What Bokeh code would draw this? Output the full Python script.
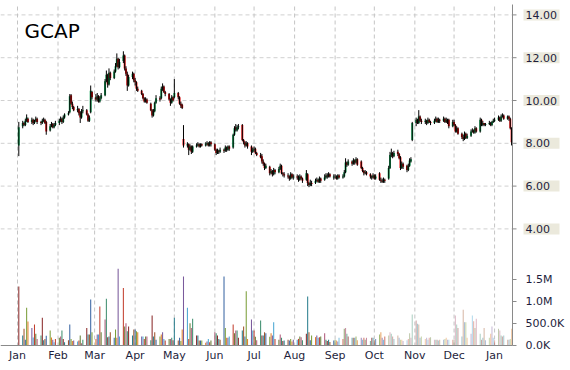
import pandas as pd
from bokeh.plotting import figure
from bokeh.models import Range1d, Label, ColumnDataSource
from bokeh.core.properties import value
from bokeh.embed import file_html
from bokeh.resources import INLINE

TICKER = "GCAP"
FIRST_DAY = "2015-01-02"
LAST_DAY = "2016-01-14"
PRICE_TICKS = [4, 6, 8, 10, 12, 14]
PRICE_TICK_LABELS = ["4.00", "6.00", "8.00", "10.00", "12.00", "14.00"]
VOLUME_TICKS = [0, 500000, 1000000, 1500000]
VOLUME_TICK_LABELS = ["0.0K", "500.0K", "1.0M", "1.5M"]
MONTH_STARTS = ["2015-01-01", "2015-02-01", "2015-03-01", "2015-04-01", "2015-05-01", "2015-06-01",
                "2015-07-01", "2015-08-01", "2015-09-01", "2015-10-01", "2015-11-01", "2015-12-01",
                "2016-01-01"]
MONTH_LABELS = ["Jan", "Feb", "Mar", "Apr", "May", "Jun", "Jul", "Aug", "Sep", "Oct", "Nov", "Dec", "Jan"]

opens = [
    7.90, 8.80, 8.95, 8.85, 9.05, 9.15, 9.00, 9.10, 8.95, 9.05, 9.15, 9.00, 8.95, 9.05, 9.10, 9.00, 8.60, 8.80, 8.90, 8.75, 8.85,
    8.95, 9.05, 9.15, 9.00, 9.20, 9.35, 9.45, 10.25, 9.85, 9.70, 9.55, 9.60, 9.45, 9.20, 9.50, 9.55, 9.35, 9.05, 9.45, 10.40,
    10.15, 10.05, 10.20, 9.95, 10.10, 10.25, 10.90, 11.20, 10.75, 11.30, 11.05, 11.35, 11.60, 11.95, 11.55, 11.85, 12.10, 11.50, 11.25, 10.70, 11.10, 11.25,
    10.95, 10.85, 10.55, 10.45, 10.30, 10.10, 9.95, 10.05, 9.85, 9.55, 9.30, 9.50, 9.90, 10.10, 10.10, 10.55, 10.65, 10.40, 10.30, 10.05, 9.90, 10.15,
    10.15, 10.35, 10.15, 9.85, 9.80, 8.20, 7.90, 7.95, 7.70, 7.85, 7.60, 7.85, 7.90, 7.95, 7.85, 7.95, 7.90, 7.95, 8.00, 7.90, 8.05,
    7.95, 7.70, 7.55, 7.65, 7.60, 7.70, 7.65, 7.80, 7.70, 7.85, 7.80, 8.40, 8.75, 8.60, 8.75, 8.85, 8.15, 8.05, 7.90, 8.00, 7.85, 7.60,
    7.70, 7.75, 7.55, 7.45, 7.40, 7.15, 7.05, 6.85, 6.90, 6.60, 6.70, 6.55, 6.75, 6.65, 6.80, 6.95, 6.60, 6.55, 6.50, 6.45, 6.35, 6.55, 6.40,
    6.45, 6.40, 6.30, 6.45, 6.35, 6.30, 6.55, 6.15, 6.05, 6.15, 6.15, 6.25, 6.30, 6.20, 6.35, 6.30, 6.40, 6.50, 6.45, 6.55, 6.40,
    6.45, 6.45, 6.35, 6.50, 6.40, 6.45, 6.65, 7.10, 7.00, 7.15, 7.05, 7.20, 7.10, 7.25, 7.15, 6.85, 6.70, 6.60, 6.65, 6.55, 6.45, 6.40,
    6.50, 6.35, 6.60, 6.30, 6.25, 6.20, 6.30, 6.35, 6.85, 7.45, 7.55, 7.40, 7.60, 7.50, 7.35, 6.85, 7.05, 6.95, 6.75, 6.95, 7.15, 8.15,
    8.95, 9.10, 8.95, 9.25, 9.05, 9.00, 9.05, 8.95, 9.10, 9.00, 8.95, 9.05, 9.15, 9.00, 9.10, 9.05, 9.15, 9.00, 9.10, 9.10, 8.80,
    9.00, 8.85, 8.55, 8.70, 8.45, 8.30, 8.20, 8.45, 8.25, 8.35, 8.55, 8.60, 8.50, 8.70, 8.55, 9.10, 8.85, 8.95, 8.85, 8.90, 8.95, 8.85, 9.00,
    9.05, 9.10, 9.20, 9.05, 9.25, 9.30, 9.15, 9.25, 9.15, 8.70,
]
highs = [
    9.00, 9.05, 9.00, 9.15, 9.35, 9.20, 9.20, 9.15, 9.10, 9.25, 9.20, 9.05, 9.15, 9.20, 9.15, 9.05, 8.90, 9.00, 8.95, 8.95, 9.05,
    9.15, 9.25, 9.20, 9.30, 9.40, 9.50, 10.30, 10.30, 9.95, 9.75, 9.75, 9.65, 9.50, 9.60, 9.75, 9.60, 9.40, 9.30, 10.70, 10.45,
    10.30, 10.35, 10.25, 10.20, 10.35, 11.00, 11.40, 11.25, 11.50, 11.35, 11.45, 11.75, 12.20, 12.00, 11.95, 12.30, 12.15, 11.60, 11.35, 11.20, 11.35, 11.30,
    11.05, 10.90, 10.65, 10.50, 10.35, 10.15, 10.15, 10.10, 9.90, 9.60, 9.60, 9.95, 10.25, 10.20, 10.65, 10.80, 10.70, 10.45, 10.35, 10.10, 10.25, 10.20,
    11.00, 10.40, 10.20, 9.95, 9.85, 8.85, 8.05, 8.00, 7.95, 7.90, 7.90, 8.00, 8.05, 8.00, 8.00, 8.00, 8.05, 8.10, 8.05, 8.10, 8.10,
    8.00, 7.75, 7.75, 7.70, 7.80, 7.75, 7.90, 7.85, 7.90, 7.90, 8.45, 8.80, 8.90, 8.85, 8.90, 8.90, 8.20, 8.10, 8.10, 8.05, 7.90, 7.80,
    7.85, 7.80, 7.60, 7.55, 7.50, 7.25, 7.10, 7.05, 6.95, 6.80, 6.75, 6.85, 6.80, 6.90, 7.05, 7.00, 6.65, 6.65, 6.60, 6.50, 6.65, 6.60, 6.55,
    6.55, 6.50, 6.55, 6.50, 6.40, 6.75, 6.60, 6.20, 6.30, 6.25, 6.35, 6.40, 6.35, 6.45, 6.40, 6.55, 6.60, 6.60, 6.65, 6.60, 6.55,
    6.55, 6.50, 6.55, 6.55, 6.55, 6.75, 7.30, 7.15, 7.25, 7.20, 7.30, 7.25, 7.35, 7.30, 7.20, 6.90, 6.75, 6.75, 6.70, 6.60, 6.50, 6.60,
    6.55, 6.55, 6.65, 6.40, 6.35, 6.40, 6.35, 6.95, 7.60, 7.75, 7.60, 7.65, 7.70, 7.55, 7.40, 7.15, 7.10, 7.00, 7.05, 7.30, 7.35, 9.00,
    9.20, 9.15, 9.55, 9.30, 9.15, 9.15, 9.10, 9.20, 9.15, 9.05, 9.15, 9.25, 9.20, 9.20, 9.15, 9.25, 9.20, 9.20, 9.15, 9.15, 9.10,
    9.10, 8.90, 8.80, 8.75, 8.50, 8.40, 8.55, 8.50, 8.45, 8.65, 8.70, 8.65, 8.80, 8.75, 9.20, 9.15, 9.05, 8.95, 8.95, 9.05, 9.00, 9.05, 9.15,
    9.20, 9.30, 9.25, 9.35, 9.40, 9.35, 9.30, 9.30, 9.20, 8.75,
]
lows = [
    7.40, 8.70, 8.80, 8.80, 9.00, 8.95, 8.90, 8.85, 8.90, 9.00, 8.90, 8.85, 8.90, 9.00, 8.90, 8.40, 8.55, 8.75, 8.70, 8.70, 8.80,
    8.85, 9.00, 8.90, 8.95, 9.15, 9.30, 9.40, 9.80, 9.60, 9.50, 9.45, 9.30, 8.95, 9.15, 9.40, 9.30, 9.00, 9.00, 9.40, 10.05,
    9.95, 9.95, 9.90, 9.90, 10.05, 10.20, 10.85, 10.60, 10.70, 10.95, 11.00, 11.30, 11.55, 11.45, 11.50, 11.75, 11.40, 11.15, 10.45, 10.65, 11.00, 10.85,
    10.70, 10.45, 10.40, 10.25, 10.05, 9.90, 9.90, 9.85, 9.50, 9.20, 9.25, 9.45, 9.85, 9.95, 10.05, 10.45, 10.35, 10.20, 10.00, 9.75, 9.85, 9.95,
    10.10, 10.05, 9.80, 9.65, 9.60, 7.80, 7.80, 7.45, 7.65, 7.50, 7.55, 7.80, 7.85, 7.80, 7.80, 7.85, 7.85, 7.90, 7.85, 7.85, 7.85,
    7.65, 7.45, 7.50, 7.50, 7.55, 7.55, 7.60, 7.60, 7.65, 7.65, 7.75, 8.35, 8.55, 8.55, 8.65, 8.10, 7.95, 7.80, 7.85, 7.75, 7.45, 7.55,
    7.60, 7.50, 7.40, 7.30, 7.05, 6.95, 6.75, 6.80, 6.50, 6.55, 6.45, 6.50, 6.55, 6.60, 6.75, 6.55, 6.45, 6.40, 6.35, 6.25, 6.30, 6.35, 6.30,
    6.30, 6.20, 6.25, 6.30, 6.15, 6.25, 6.00, 5.95, 6.00, 6.00, 6.10, 6.20, 6.15, 6.15, 6.15, 6.25, 6.35, 6.35, 6.40, 6.40, 6.30,
    6.35, 6.30, 6.30, 6.35, 6.35, 6.40, 6.60, 6.90, 6.95, 6.95, 7.00, 7.00, 7.05, 6.95, 6.80, 6.65, 6.50, 6.55, 6.50, 6.35, 6.30, 6.35,
    6.30, 6.30, 6.25, 6.15, 6.15, 6.15, 6.15, 6.30, 6.80, 7.35, 7.30, 7.35, 7.40, 7.25, 6.75, 6.80, 6.80, 6.65, 6.70, 6.90, 7.10, 8.10,
    8.80, 8.90, 8.90, 9.00, 8.90, 8.90, 8.85, 8.90, 8.95, 8.85, 8.90, 9.00, 8.95, 8.95, 8.95, 9.00, 8.95, 8.95, 8.90, 8.70, 8.75,
    8.80, 8.50, 8.50, 8.40, 8.20, 8.10, 8.15, 8.20, 8.20, 8.30, 8.50, 8.45, 8.45, 8.50, 8.50, 8.80, 8.80, 8.80, 8.80, 8.85, 8.80, 8.80, 8.95,
    9.00, 9.05, 9.00, 9.00, 9.20, 9.10, 9.10, 9.05, 8.65, 7.90,
]
closes = [
    8.75, 8.95, 8.85, 9.05, 9.20, 9.00, 9.10, 8.95, 9.05, 9.15, 9.00, 8.95, 9.05, 9.10, 8.95, 8.55, 8.80, 8.90, 8.75, 8.85, 8.95,
    9.05, 9.15, 9.00, 9.20, 9.35, 9.40, 10.20, 9.85, 9.70, 9.55, 9.60, 9.40, 9.20, 9.50, 9.55, 9.35, 9.05, 9.20, 10.45, 10.15,
    10.05, 10.20, 9.95, 10.10, 10.25, 10.90, 11.20, 10.75, 11.30, 11.05, 11.35, 11.60, 11.95, 11.55, 11.80, 12.10, 11.50, 11.25, 10.70, 11.10, 11.25, 10.95,
    10.85, 10.55, 10.45, 10.30, 10.10, 9.95, 10.05, 9.90, 9.55, 9.30, 9.50, 9.90, 10.10, 10.05, 10.55, 10.65, 10.40, 10.30, 10.05, 9.90, 10.15, 10.00,
    10.35, 10.15, 9.85, 9.75, 9.65, 7.90, 7.95, 7.70, 7.85, 7.60, 7.85, 7.90, 7.95, 7.85, 7.95, 7.90, 7.95, 8.00, 7.90, 8.05, 7.95,
    7.70, 7.55, 7.65, 7.60, 7.70, 7.65, 7.80, 7.70, 7.85, 7.75, 8.40, 8.70, 8.65, 8.75, 8.80, 8.15, 8.05, 7.90, 8.00, 7.85, 7.60, 7.70,
    7.75, 7.55, 7.45, 7.35, 7.15, 7.05, 6.85, 6.95, 6.60, 6.70, 6.55, 6.75, 6.65, 6.80, 6.95, 6.60, 6.55, 6.50, 6.45, 6.35, 6.55, 6.40, 6.45,
    6.40, 6.30, 6.45, 6.35, 6.25, 6.60, 6.15, 6.05, 6.15, 6.10, 6.25, 6.30, 6.20, 6.35, 6.25, 6.40, 6.50, 6.45, 6.55, 6.45, 6.45,
    6.45, 6.35, 6.50, 6.40, 6.45, 6.65, 7.10, 7.00, 7.15, 7.05, 7.20, 7.10, 7.25, 7.00, 6.85, 6.70, 6.60, 6.65, 6.55, 6.45, 6.40, 6.50,
    6.35, 6.45, 6.30, 6.25, 6.20, 6.30, 6.25, 6.85, 7.45, 7.55, 7.40, 7.55, 7.50, 7.30, 6.85, 7.05, 6.90, 6.75, 6.95, 7.20, 7.25, 8.95,
    9.10, 8.95, 9.25, 9.05, 9.00, 9.05, 8.95, 9.10, 9.00, 8.95, 9.05, 9.15, 9.00, 9.10, 9.05, 9.15, 9.00, 9.10, 8.95, 8.80, 9.00,
    8.85, 8.55, 8.70, 8.45, 8.30, 8.20, 8.45, 8.25, 8.35, 8.55, 8.60, 8.50, 8.70, 8.55, 9.10, 8.85, 8.95, 8.85, 8.90, 8.95, 8.85, 9.00, 9.05,
    9.10, 9.20, 9.05, 9.25, 9.30, 9.15, 9.25, 9.15, 8.70, 8.05,
]
volume_k = [
    1340, 227, 380, 130, 857, 545, 400, 180, 477, 265, 150, 227, 630, 120, 150, 220, 340, 180, 130, 75, 150,
    175, 205, 340, 150, 75, 120, 477, 150, 100, 115, 90, 115, 227, 53, 130, 400, 250, 250, 1045, 300,
    150, 250, 250, 887, 300, 590, 1061, 190, 205, 300, 175, 364, 175, 1743, 205, 1304, 432, 508, 326, 432, 227, 364,
    364, 326, 300, 205, 205, 150, 205, 205, 120, 682, 205, 300, 130, 205, 250, 300, 150, 115, 150, 150, 175, 120,
    630, 115, 175, 100, 364, 1569, 857, 150, 508, 400, 606, 227, 227, 115, 115, 115, 60, 90, 150, 75, 115,
    300, 280, 227, 150, 130, 1569, 400, 175, 175, 205, 477, 280, 340, 340, 175, 340, 432, 205, 1235, 150, 590, 340,
    340, 200, 120, 568, 227, 227, 300, 280, 200, 280, 227, 530, 150, 130, 250, 175, 100, 115, 130, 115, 150, 90, 130,
    130, 150, 205, 190, 120, 265, 1114, 300, 120, 227, 190, 227, 175, 190, 205, 280, 130, 100, 130, 80, 115,
    130, 115, 90, 175, 150, 380, 400, 265, 205, 175, 175, 175, 205, 120, 175, 130, 175, 130, 175, 100, 175, 175,
    120, 150, 250, 300, 175, 130, 205, 227, 300, 265, 205, 150, 227, 175, 130, 130, 100, 120, 150, 280, 175, 705,
    568, 492, 477, 175, 205, 150, 175, 130, 175, 190, 130, 130, 130, 115, 130, 130, 150, 175, 130, 130, 130,
    130, 682, 477, 400, 205, 811, 530, 530, 175, 265, 682, 553, 400, 606, 265, 130, 175, 400, 120, 175, 265, 432, 175,
    120, 380, 340, 227, 205, 227, 130, 130, 150, 380,
]

# ---- build table ----
dates = pd.bdate_range(FIRST_DAY, LAST_DAY)
n = min(len(dates), len(opens), len(highs), len(lows), len(closes), len(volume_k))
df = pd.DataFrame({"date": dates[:n], "open": opens[:n], "high": highs[:n],
                   "low": lows[:n], "close": closes[:n], "vol": [v * 1000 for v in volume_k[:n]]})
UP, DOWN = "#12a356", "#f01010"
df["body"] = [UP if c >= o else DOWN for o, c in zip(df.open, df.close)]
palette = ["#8b2b2b", "#2c7f8e", "#a0562d", "#3a66a3", "#7b9e3a", "#e0802a",
           "#7a5a9c", "#4aa6d2", "#c2402f", "#6a7f3a", "#b05a7a", "#3f8f6f"]
df["vcolor"] = [palette[i % len(palette)] for i in range(n)]
df["valpha"] = [1.0 if d < pd.Timestamp("2015-09-01") else (0.7 if d < pd.Timestamp("2015-10-10") else 0.42)
                for d in df.date]
src = ColumnDataSource(df)

# ---- scales / layout (whole canvas is the frame; axes are drawn) ----
PX_PER_UNIT = 21.4          # price units
Y_TEN = 100                 # pixel row of price 10
PX_PER_500K = 22.0
Y_VOL0 = 345                # pixel row of zero volume / baseline


def price_at(y):
    return 10 + (Y_TEN - y) / PX_PER_UNIT


def vol_at(y):
    return (Y_VOL0 - y) / PX_PER_500K * 500000


P_TOP, P_BASE = price_at(6), price_at(Y_VOL0)
DAY = 86400000
X0 = pd.Timestamp("2014-12-19")
AXIS_X = pd.Timestamp("2016-01-14 17:00")      # right axis position (512 px)
MS_PER_PX = (AXIS_X - X0).total_seconds() * 1000 / 512.0


def px(d):
    return pd.Timedelta(milliseconds=d * MS_PER_PX)


X1 = X0 + px(570)

p = figure(width=570, height=370, x_axis_location=None, y_axis_location=None,
           output_backend="svg", toolbar_location=None,
           x_range=Range1d(X0, X1), y_range=Range1d(price_at(370), price_at(0)),
           min_border_left=0, min_border_right=0, min_border_top=0, min_border_bottom=0)
p.extra_y_ranges = {"vol": Range1d(vol_at(370), vol_at(0))}
p.outline_line_color = None
p.background_fill_color = "white"
p.border_fill_color = "white"
p.xgrid.visible = False
p.ygrid.visible = False

# grid lines
k = len(PRICE_TICKS)
p.segment(x0=[X0] * k, y0=PRICE_TICKS, x1=[AXIS_X] * k, y1=PRICE_TICKS,
          line_color="#d0d0d0", line_dash="4 3", line_width=1)
months = [pd.Timestamp(d) for d in MONTH_STARTS]
nm = len(months)
p.segment(x0=months, y0=[P_TOP] * nm, x1=months, y1=[P_BASE] * nm,
          line_color="#c4c4c4", line_dash="4 3", line_width=1)

# volume bars
p.vbar(x="date", top="vol", bottom=0, width=0.8 * DAY, y_range_name="vol",
       fill_color="vcolor", line_color=None, fill_alpha="valpha", source=src)

# candles
p.vbar(x="date", top="open", bottom="close", width=1.5 * DAY, fill_color="body",
       line_color=None, source=src)
p.segment(x0="date", y0="high", x1="date", y1="low", line_color="black", line_width=1, source=src)

# ---- right axis ----
vol_pos = [price_at(Y_VOL0 - v / 500000 * PX_PER_500K) for v in VOLUME_TICKS]
all_pos = vol_pos + PRICE_TICKS
m = len(all_pos)
p.segment(x0=[AXIS_X], y0=[P_BASE], x1=[AXIS_X], y1=[price_at(4)], line_color="#8a8a8a", line_width=1)
p.segment(x0=[AXIS_X] * m, y0=all_pos, x1=[AXIS_X + px(4)] * m, y1=all_pos,
          line_color="#8a8a8a", line_width=1)
p.rect(x=[AXIS_X + px(29)] * k, y=PRICE_TICKS, width=36, height=11,
       width_units="screen", height_units="screen",
       fill_color="#ebe9dc", line_color=None)
p.text(x=[AXIS_X + px(13)] * k, y=PRICE_TICKS, text=PRICE_TICK_LABELS,
       text_font=value("DejaVu Sans"), text_font_size=value("11px"), text_color="#1e1e3c",
       text_baseline="middle", text_align="left")
p.text(x=[AXIS_X + px(13)] * len(vol_pos), y=vol_pos, text=VOLUME_TICK_LABELS,
       text_font=value("DejaVu Sans"), text_font_size=value("11px"), text_color="#1e1e3c",
       text_baseline="middle", text_align="left")

# ---- bottom axis ----
p.segment(x0=[X0], y0=[P_BASE], x1=[AXIS_X], y1=[P_BASE], line_color="#8a8a8a", line_width=1)
p.text(x=months, y=[price_at(355)] * nm, text=MONTH_LABELS,
       text_font=value("DejaVu Sans"), text_font_size=value("11px"), text_color="#1e1e3c",
       text_baseline="middle", text_align="center")

p.add_layout(Label(x=24, y=price_at(30), x_units="screen", y_units="data", text=TICKER,
                   text_font="DejaVu Sans", text_font_size="20px", text_color="black",
                   text_baseline="middle", text_align="left"))

open("out.html", "w").write(file_html(p, INLINE))
